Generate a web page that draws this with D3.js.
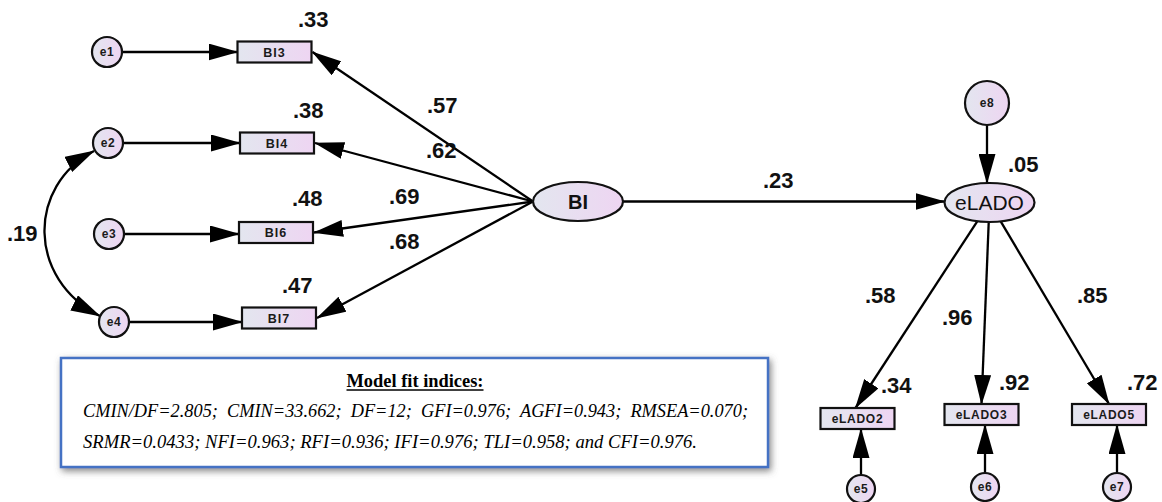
<!DOCTYPE html>
<html>
<head>
<meta charset="utf-8">
<script src="https://cdn.jsdelivr.net/npm/d3@7"></script>
<style>
  body { margin: 0; background: #fff; }
  svg { display: block; }
</style>
</head>
<body>
<script>
var w = 1162;
var h = 502;

// model values
var biItems = ["BI3", "BI4", "BI6", "BI7"];
var biErrors = ["e1", "e2", "e3", "e4"];
var biLoadings = [0.57, 0.62, 0.69, 0.68];
var biR2 = [0.33, 0.38, 0.48, 0.47];

var ladoItems = ["eLADO2", "eLADO3", "eLADO5"];
var ladoErrors = ["e5", "e6", "e7"];
var ladoLoadings = [0.58, 0.96, 0.85];
var ladoR2 = [0.34, 0.92, 0.72];

var pathBItoLADO = 0.23;
var ladoLatentR2 = 0.05;
var covE2E4 = 0.19;

var fitTitle = "Model fit indices:";
var fitLine1 = ["CMIN/DF=2.805;", "CMIN=33.662;", "DF=12;", "GFI=0.976;", "AGFI=0.943;", "RMSEA=0.070;"];
var fitLine2 = ["SRMR=0.0433;", "NFI=0.963;", "RFI=0.936;", "IFI=0.976;", "TLI=0.958;", "and", "CFI=0.976."];

// layout of the diagram (positions only)
var rectW = 74, rectH = 21, eR = 15;
var ePos = [[107, 52], [108, 143], [109, 234], [114, 322]];
var biRectPos = [[274.5, 52], [277, 143], [276, 232.5], [279, 318]];
var biPos = [578, 201.5], latRx = 45, latRy = 19.5;
var ladoPos = [989.5, 202.5];
var e8Pos = [987, 103], e8R = 22;
var ladoRectPos = [[857.5, 418.5], [981.5, 414.5], [1109, 414.5]];
var ladoEPos = [[861, 489], [985, 487], [1117, 487]];

var biR2Pos = [[298, 27], [293, 118], [292, 206], [282, 293]];
var biLoadPos = [[427, 113], [426, 158], [389, 204], [389, 249]];
var ladoLoadPos = [[865, 303], [942, 325], [1077, 303]];
var ladoR2Pos = [[881, 393], [999, 390], [1127, 390]];

var fmt = function(v) { return d3.format(".2f")(v).replace(/^0/, ""); };
var sans = "'Liberation Sans', Arial, sans-serif";
var serif = "'Liberation Serif', 'Times New Roman', serif";

var svg = d3.select("body")
    .append("svg")
    .attr("width", w)
    .attr("height", h);

var defs = svg.append("defs");
var grad = defs.append("linearGradient")
    .attr("id", "nodeFill")
    .attr("x1", "0%").attr("x2", "100%")
    .attr("y1", "0%").attr("y2", "0%");
grad.append("stop").attr("offset", "0%").attr("stop-color", "#e3e6ef");
grad.append("stop").attr("offset", "100%").attr("stop-color", "#eed5f2");

defs.append("marker")
    .attr("id", "arrow")
    .attr("markerUnits", "userSpaceOnUse")
    .attr("viewBox", "0 0 30 17")
    .attr("markerWidth", 30)
    .attr("markerHeight", 17)
    .attr("refX", 29)
    .attr("refY", 8.5)
    .attr("orient", "auto-start-reverse")
    .append("path")
    .attr("d", "M0,0 L30,8.5 L0,17 Z")
    .attr("fill", "#000");

var shadow = defs.append("filter")
    .attr("id", "shadow")
    .attr("x", "-5%").attr("y", "-20%")
    .attr("width", "112%").attr("height", "150%");
shadow.append("feDropShadow")
    .attr("dx", 2).attr("dy", 3)
    .attr("stdDeviation", 3.5)
    .attr("flood-color", "#555")
    .attr("flood-opacity", 0.7);

// point on ellipse border in direction of p
function ellipseEdge(c, rx, ry, p) {
    var dx = p[0] - c[0], dy = p[1] - c[1];
    var t = 1 / Math.sqrt((dx / rx) * (dx / rx) + (dy / ry) * (dy / ry));
    return [c[0] + dx * t, c[1] + dy * t];
}

var lines = svg.append("g")
    .attr("stroke", "#000")
    .attr("stroke-width", 2.3)
    .attr("fill", "none");

function arrow(a, b) {
    lines.append("line")
        .attr("x1", a[0]).attr("y1", a[1])
        .attr("x2", b[0]).attr("y2", b[1])
        .attr("marker-end", "url(#arrow)");
}

// error -> BI indicators
biErrors.forEach(function(d, i) {
    arrow([ePos[i][0] + eR + 1, ePos[i][1]], [biRectPos[i][0] - rectW / 2, ePos[i][1]]);
});
// BI -> indicators
biItems.forEach(function(d, i) {
    arrow([biPos[0] - latRx, biPos[1]], [biRectPos[i][0] + rectW / 2 + 1, biRectPos[i][1]]);
});
// BI -> eLADO
arrow([biPos[0] + latRx, biPos[1]], [ladoPos[0] - latRx, biPos[1]]);
// e8 -> eLADO
arrow([e8Pos[0], e8Pos[1] + e8R], [e8Pos[0], ladoPos[1] - latRy]);
// eLADO -> indicators, errors -> indicators
ladoItems.forEach(function(d, i) {
    var tip = [ladoRectPos[i][0] - (i === 0 ? 2 : 0), ladoRectPos[i][1] - rectH / 2];
    arrow(ellipseEdge(ladoPos, latRx, latRy, tip), tip);
    arrow([ladoEPos[i][0], ladoEPos[i][1] - 14], [ladoEPos[i][0], ladoRectPos[i][1] + rectH / 2]);
});
// covariance e2 <-> e4
lines.append("path")
    .attr("d", "M94,151 C27,186 27,279 100,316")
    .attr("marker-start", "url(#arrow)")
    .attr("marker-end", "url(#arrow)");

// nodes
var nodes = svg.append("g")
    .attr("fill", "url(#nodeFill)")
    .attr("stroke", "#111")
    .attr("stroke-width", 2.2);

function circleNode(p, r, label, fs) {
    nodes.append("circle").attr("cx", p[0]).attr("cy", p[1]).attr("r", r);
    svg.append("text")
        .attr("x", p[0]).attr("y", p[1] + fs * 0.36)
        .attr("text-anchor", "middle")
        .attr("font-family", sans).attr("font-weight", "bold")
        .attr("font-size", fs).attr("letter-spacing", 0.5)
        .attr("fill", "#1a1a1a")
        .text(label);
}

function rectNode(p, label, fs, ls) {
    nodes.append("rect")
        .attr("x", p[0] - rectW / 2).attr("y", p[1] - rectH / 2)
        .attr("width", rectW).attr("height", rectH);
    svg.append("text")
        .attr("x", p[0]).attr("y", p[1] + fs * 0.36)
        .attr("text-anchor", "middle")
        .attr("font-family", sans).attr("font-weight", "bold")
        .attr("font-size", fs).attr("letter-spacing", ls)
        .attr("fill", "#1a1a1a")
        .text(label);
}

function latentNode(p, label, fs, weight) {
    nodes.append("ellipse")
        .attr("cx", p[0]).attr("cy", p[1])
        .attr("rx", latRx).attr("ry", latRy);
    svg.append("text")
        .attr("x", p[0]).attr("y", p[1] + fs * 0.36)
        .attr("text-anchor", "middle")
        .attr("font-family", sans).attr("font-weight", weight)
        .attr("font-size", fs)
        .attr("fill", "#111")
        .text(label);
}

biErrors.forEach(function(d, i) { circleNode(ePos[i], eR, d, 12); });
biItems.forEach(function(d, i) { rectNode(biRectPos[i], d, 12.5, 1); });
latentNode(biPos, "BI", 20, "bold");
latentNode(ladoPos, "eLADO", 21, "normal");
circleNode(e8Pos, e8R, "e8", 12);
ladoItems.forEach(function(d, i) { rectNode(ladoRectPos[i], d, 12, 0.7); });
ladoErrors.forEach(function(d, i) { circleNode(ladoEPos[i], 14, d, 12); });

// coefficient labels
var labels = svg.append("g")
    .attr("font-family", sans)
    .attr("font-weight", "bold")
    .attr("font-size", 22)
    .attr("fill", "#111");

function label(p, v) {
    labels.append("text").attr("x", p[0]).attr("y", p[1]).text(fmt(v));
}

biR2.forEach(function(v, i) { label(biR2Pos[i], v); });
biLoadings.forEach(function(v, i) { label(biLoadPos[i], v); });
ladoLoadings.forEach(function(v, i) { label(ladoLoadPos[i], v); });
ladoR2.forEach(function(v, i) { label(ladoR2Pos[i], v); });
label([763, 188], pathBItoLADO);
label([1008, 172], ladoLatentR2);
label([7, 241], covE2E4);

// fit indices box
var box = svg.append("g");
box.append("rect")
    .attr("x", 61).attr("y", 358)
    .attr("width", 707).attr("height", 109)
    .attr("fill", "#fff")
    .attr("stroke", "#4472c4")
    .attr("stroke-width", 2.5)
    .attr("filter", "url(#shadow)");

box.append("text")
    .attr("x", 415).attr("y", 387)
    .attr("text-anchor", "middle")
    .attr("font-family", serif).attr("font-weight", "bold")
    .attr("font-size", 18)
    .attr("textLength", 137).attr("lengthAdjust", "spacingAndGlyphs")
    .attr("fill", "#000")
    .text(fitTitle);
box.append("line")
    .attr("x1", 346.5).attr("x2", 483.5)
    .attr("y1", 390).attr("y2", 390)
    .attr("stroke", "#000").attr("stroke-width", 1.5);

box.append("text")
    .attr("x", 83).attr("y", 417)
    .attr("font-family", serif).attr("font-style", "italic")
    .attr("font-size", 18)
    .attr("textLength", 665).attr("lengthAdjust", "spacingAndGlyphs")
    .attr("fill", "#000")
    .attr("xml:space", "preserve")
    .text(fitLine1.join("  "));

box.append("text")
    .attr("x", 83).attr("y", 448)
    .attr("font-family", serif).attr("font-style", "italic")
    .attr("font-size", 18)
    .attr("textLength", 614).attr("lengthAdjust", "spacingAndGlyphs")
    .attr("fill", "#000")
    .text(fitLine2.join(" "));
</script>
</body>
</html>
